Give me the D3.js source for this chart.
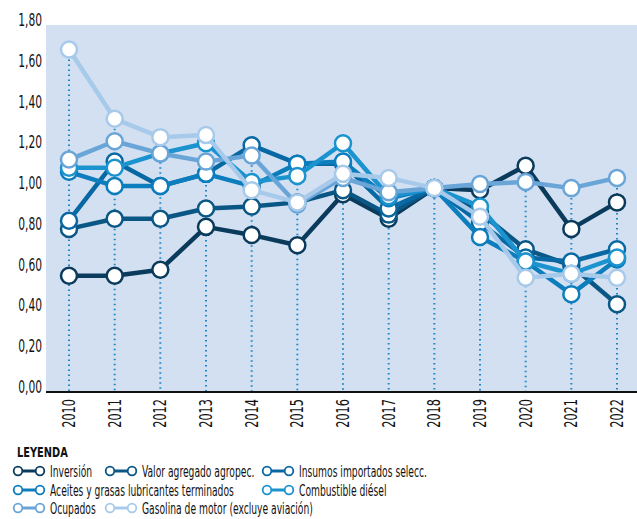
<!DOCTYPE html>
<html>
<head>
<meta charset="utf-8">
<script src="https://cdn.jsdelivr.net/npm/d3@7"></script>
<style>
  body { margin: 0; background: #fff; }
  text { font-family: "Liberation Sans Narrow", "DejaVu Sans Condensed", "Liberation Sans", sans-serif; }
</style>
</head>
<body>
<svg id="chart" width="637" height="519"></svg>
<script>
const years = ['2010','2011','2012','2013','2014','2015','2016','2017','2018','2019','2020','2021','2022'];
const yTicks = [0, 0.2, 0.4, 0.6, 0.8, 1.0, 1.2, 1.4, 1.6, 1.8];

const inversion    = [0.57, 0.57, 0.60, 0.81, 0.77, 0.72, 0.97, 0.85, 1.00, 0.99, 1.11, 0.80, 0.93];
const valorAgro    = [0.80, 0.85, 0.85, 0.90, 0.91, 0.93, 0.99, 0.87, 1.00, 0.88, 0.70, 0.62, 0.43];
const insumos      = [0.84, 1.13, 1.01, 1.07, 1.21, 1.12, 1.12, 0.90, 1.00, 0.83, 0.66, 0.64, 0.70];
const aceites      = [1.08, 1.01, 1.01, 1.07, 1.01, 1.12, 1.13, 0.95, 1.00, 0.76, 0.64, 0.48, 0.65];
const combustible  = [1.10, 1.10, 1.17, 1.22, 1.03, 1.06, 1.22, 0.96, 1.00, 0.91, 0.64, 0.58, 0.66];
const ocupados     = [1.14, 1.23, 1.17, 1.13, 1.16, 0.92, 1.05, 0.98, 1.00, 1.02, 1.03, 1.00, 1.05];
const gasolina     = [1.68, 1.34, 1.25, 1.26, 0.99, 0.93, 1.07, 1.05, 1.00, 0.86, 0.56, 0.58, 0.56];

const series = [
  { name: 'Inversión', values: inversion, color: '#0b3b5c' },
  { name: 'Valor agregado agropec.', values: valorAgro, color: '#0a5785' },
  { name: 'Insumos importados selecc.', values: insumos, color: '#0868a4' },
  { name: 'Aceites y grasas lubricantes terminados', values: aceites, color: '#0c7dbd' },
  { name: 'Combustible diésel', values: combustible, color: '#1b93cf' },
  { name: 'Ocupados', values: ocupados, color: '#6aa5d8' },
  { name: 'Gasolina de motor (excluye aviación)', values: gasolina, color: '#a8caea' },
];

const svg = d3.select('#chart');
const plotLeft = 46, plotRight = 637;

const x = d3.scalePoint().domain(years).range([69, 617]);
const y = d3.scaleLinear().domain([0, 1.8]).range([392, 25]);

// squeeze text horizontally so it looks like the condensed face of the original
function condensedText(parent, tx, ty, str, size, sx, anchor, rotate) {
  const g = parent.append('g')
    .attr('transform', `translate(${tx},${ty})` + (rotate ? ` rotate(${rotate})` : '') + ` scale(${sx},1)`);
  return g.append('text')
    .attr('font-size', size)
    .attr('text-anchor', anchor || 'start')
    .attr('fill', '#111')
    .text(str);
}

// background
svg.append('rect')
  .attr('x', plotLeft).attr('y', y(1.8))
  .attr('width', plotRight - plotLeft).attr('height', y(0) - y(1.8))
  .attr('fill', '#d3e0f1');

// y labels (sit just above their value)
const yLab = svg.append('g');
yTicks.forEach(d => condensedText(yLab, 42, y(d) + 1, d3.format('.2f')(d).replace('.', ','), 17.5, 0.68, 'end'));

// dotted drop lines from the highest point of each year
svg.append('g').selectAll('line')
  .data(years).enter().append('line')
  .attr('x1', d => x(d)).attr('x2', d => x(d))
  .attr('y1', (d, i) => y(d3.max(series, s => s.values[i])))
  .attr('y2', y(0))
  .attr('stroke', '#1d86c6')
  .attr('stroke-width', 2)
  .attr('stroke-dasharray', '1.5,3.5');

// x axis line
svg.append('line')
  .attr('x1', plotLeft).attr('x2', plotRight)
  .attr('y1', y(0)).attr('y2', y(0))
  .attr('stroke', '#111').attr('stroke-width', 2);

// x labels, rotated
const xLab = svg.append('g');
years.forEach(d => condensedText(xLab, x(d) + 6, 399, d, 17, 0.74, 'end', -90));

const line = d3.line()
  .x((d, i) => x(years[i]))
  .y(d => y(d));

series.forEach(s => {
  const g = svg.append('g');
  g.append('path')
    .attr('d', line(s.values))
    .attr('fill', 'none')
    .attr('stroke', s.color)
    .attr('stroke-width', 4.5)
    .attr('stroke-linejoin', 'round');
  g.selectAll('circle')
    .data(s.values).enter().append('circle')
    .attr('cx', (d, i) => x(years[i]))
    .attr('cy', d => y(d))
    .attr('r', 8)
    .attr('fill', '#fff')
    .attr('stroke', s.color)
    .attr('stroke-width', 2.5);
});

// legend
const legend = svg.append('g');
condensedText(legend, 17, 457, 'LEYENDA', 14, 0.78, 'start').attr('font-weight', 'bold');

const legendPos = [
  [14, 471], [106, 471], [263, 471],
  [14, 490], [263, 490],
  [14, 508], [106, 508],
];

// scale factor so the long label spans its width in the original
const probe = legend.append('text').attr('font-size', 16.5).text(series[3].name);
const sx = 184 / probe.node().getComputedTextLength();
probe.remove();

series.forEach((s, i) => {
  const [lx, ly] = legendPos[i];
  const item = legend.append('g').attr('transform', `translate(${lx},${ly})`);
  item.append('line')
    .attr('x1', 4).attr('x2', 26).attr('y1', 0).attr('y2', 0)
    .attr('stroke', s.color).attr('stroke-width', 3);
  [4, 26].forEach(cx => item.append('circle')
    .attr('cx', cx).attr('cy', 0).attr('r', 4.3)
    .attr('fill', '#fff').attr('stroke', s.color).attr('stroke-width', 1.8));
  condensedText(item, 36, 5.5, s.name, 16.5, sx, 'start');
});
</script>
</body>
</html>
